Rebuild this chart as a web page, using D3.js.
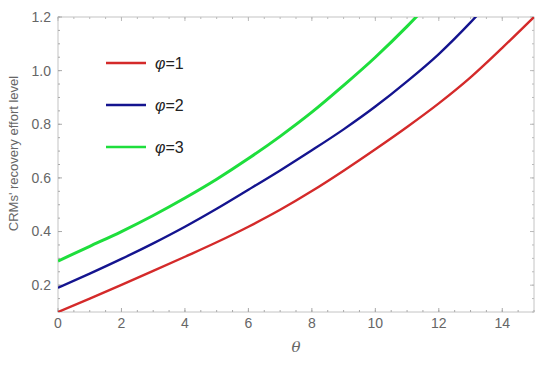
<!DOCTYPE html>
<html>
<head>
<meta charset="utf-8">
<script src="https://cdn.jsdelivr.net/npm/d3@7"></script>
<style>
  body { margin: 0; background: #fff; }
  svg { font-family: "Liberation Sans", Arial, sans-serif; }
</style>
</head>
<body>
<div id="chart"></div>
<script>
// theta values and curve values
const thetas = [0, 1, 2, 3, 4, 5, 6, 7, 8, 9, 10, 11, 12, 13, 14, 15];
const phi1 = [0.100, 0.150, 0.201, 0.253, 0.306, 0.360, 0.418, 0.481, 0.551, 0.627, 0.707, 0.790, 0.878, 0.975, 1.085, 1.200];
const phi2 = [0.190, 0.243, 0.298, 0.356, 0.418, 0.485, 0.556, 0.628, 0.703, 0.781, 0.866, 0.960, 1.062, 1.180, 1.310];
const phi3 = [0.290, 0.345, 0.400, 0.460, 0.525, 0.595, 0.672, 0.755, 0.845, 0.945, 1.050, 1.165, 1.290];
const seriesNames = ["φ=1", "φ=2", "φ=3"];
const seriesColors = ["#d42a2a", "#14148f", "#1ede3c"];
const xTicks = [0, 2, 4, 6, 8, 10, 12, 14];
const yTicks = [0.2, 0.4, 0.6, 0.8, 1.0, 1.2];

const svgWidth = 550;
const svgHeight = 365;
const margin = {top: 17, right: 16, bottom: 53, left: 58};
const width = svgWidth - margin.left - margin.right;
const height = svgHeight - margin.top - margin.bottom;

const svg = d3.select("#chart")
    .append("svg")
    .attr("width", svgWidth)
    .attr("height", svgHeight);

const g = svg.append("g")
    .attr("transform", "translate(" + margin.left + "," + margin.top + ")");

const x = d3.scaleLinear().domain([0, 15]).range([0, width]);
const y = d3.scaleLinear().domain([0.1, 1.2]).range([height, 0]);

g.append("clipPath").attr("id", "clip")
    .append("rect").attr("width", width).attr("height", height);

// frame
g.append("rect")
    .attr("width", width).attr("height", height)
    .attr("fill", "none").attr("stroke", "#c4c4c4").attr("stroke-width", 1);

// minor + major ticks pointing inward on all four sides
const xMinor = d3.range(0, 15.01, 0.5);
const yMinor = d3.range(0.1, 1.201, 0.05);
function tickMarks(vals, isX, len) {
    vals.forEach(function (v) {
        if (isX) {
            const px = x(v);
            g.append("line").attr("x1", px).attr("x2", px).attr("y1", height).attr("y2", height - len)
                .attr("stroke", "#aaa");
            g.append("line").attr("x1", px).attr("x2", px).attr("y1", 0).attr("y2", len)
                .attr("stroke", "#bbb");
        } else {
            const py = y(v);
            g.append("line").attr("x1", 0).attr("x2", len).attr("y1", py).attr("y2", py)
                .attr("stroke", "#aaa");
            g.append("line").attr("x1", width).attr("x2", width - len).attr("y1", py).attr("y2", py)
                .attr("stroke", "#bbb");
        }
    });
}
tickMarks(xMinor, true, 2);
tickMarks(xTicks, true, 4);
tickMarks(yMinor, false, 2);
tickMarks(yTicks, false, 4);

// tick labels
g.selectAll(".xlab").data(xTicks).enter().append("text")
    .attr("x", d => x(d)).attr("y", height + 16)
    .attr("text-anchor", "middle")
    .attr("font-size", 14).attr("fill", "#666")
    .text(d => d);

g.selectAll(".ylab").data(yTicks).enter().append("text")
    .attr("x", -7).attr("y", d => y(d)).attr("dy", "0.35em")
    .attr("text-anchor", "end")
    .attr("font-size", 14).attr("fill", "#666")
    .text(d => d3.format(".1f")(d));

// axis titles
g.append("text")
    .attr("x", x(7.5)).attr("y", height + 40)
    .attr("text-anchor", "middle")
    .attr("font-size", 15).attr("font-style", "italic").attr("fill", "#666")
    .attr("font-family", "'DejaVu Serif', serif")
    .text("θ");

g.append("text")
    .attr("transform", "translate(" + (-40) + "," + (height / 2 - 11) + ") rotate(-90)")
    .attr("text-anchor", "middle")
    .attr("font-size", 13).attr("fill", "#666")
    .text("CRMs' recovery effort level");

// curves
const line = d3.line()
    .x((d, i) => x(thetas[i]))
    .y(d => y(d))
    .curve(d3.curveMonotoneX);

const allSeries = [phi1, phi2, phi3];
const widths = [2.4, 2.4, 3];
g.append("g").attr("clip-path", "url(#clip)")
    .selectAll("path").data(allSeries).enter().append("path")
    .attr("d", d => line(d))
    .attr("fill", "none")
    .attr("stroke", (d, i) => seriesColors[i])
    .attr("stroke-width", (d, i) => widths[i]);

// legend
const legend = svg.append("g").attr("transform", "translate(106,63)");
seriesNames.forEach(function (name, i) {
    const row = legend.append("g").attr("transform", "translate(0," + (i * 42) + ")");
    row.append("line").attr("x1", 0).attr("x2", 40).attr("y1", 0).attr("y2", 0)
        .attr("stroke", seriesColors[i]).attr("stroke-width", 2.5);
    const t = row.append("text").attr("x", 49).attr("y", 0).attr("dy", "0.36em")
        .attr("font-size", 16).attr("fill", "#222");
    t.append("tspan").attr("font-style", "italic").text(name.slice(0, 1));
    t.append("tspan").text(name.slice(1));
});
</script>
</body>
</html>
